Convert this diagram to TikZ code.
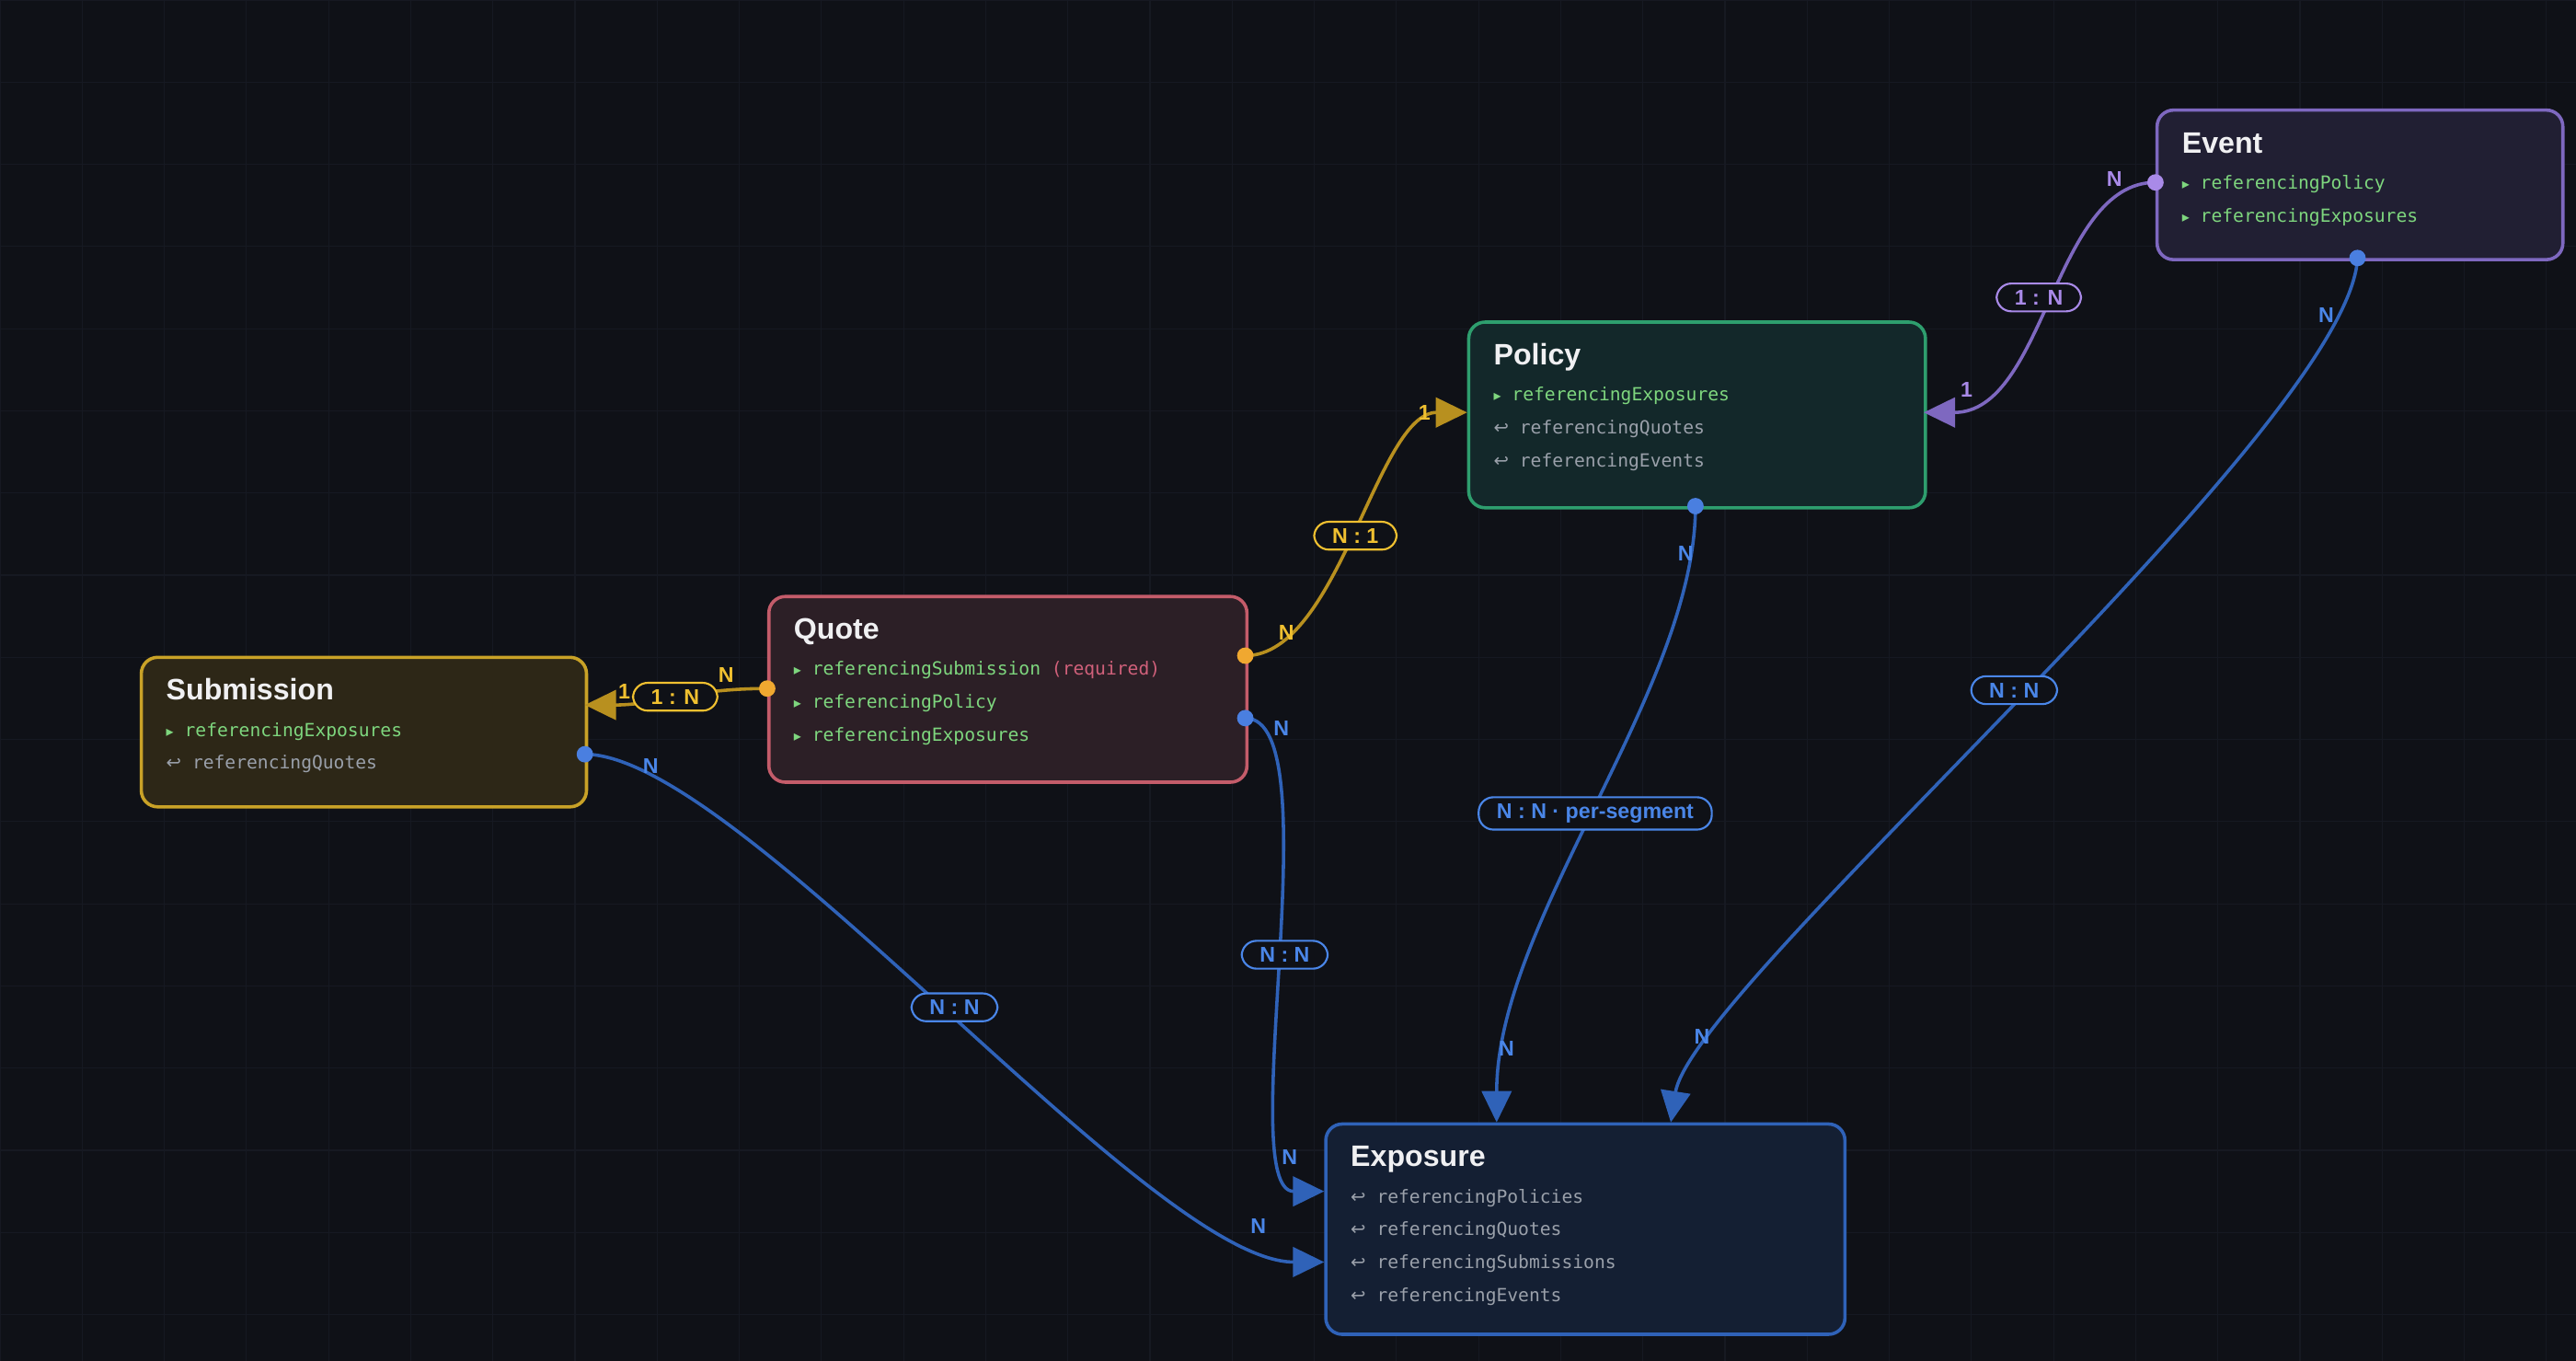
\documentclass[tikz,border=0pt]{standalone}
\usepackage{fontspec}
\setmainfont{Liberation Sans}
\newfontfamily\monof{DejaVu Sans Mono}
\newfontfamily\symf{DejaVu Sans}
\usetikzlibrary{arrows.meta}
\definecolor{bg}{HTML}{0F1117}
\definecolor{gridc}{HTML}{161922}
\definecolor{subB}{HTML}{C9A227}\definecolor{subF}{HTML}{2D2717}
\definecolor{quoB}{HTML}{C45C6A}\definecolor{quoF}{HTML}{2C1F26}
\definecolor{polB}{HTML}{2E9E6E}\definecolor{polF}{HTML}{13282A}
\definecolor{evB}{HTML}{7E68C0}\definecolor{evF}{HTML}{211F33}
\definecolor{exB}{HTML}{2F62B8}\definecolor{exF}{HTML}{141F33}
\definecolor{grn}{HTML}{7ED67E}\definecolor{gry}{HTML}{9AA0AA}\definecolor{req}{HTML}{D0607A}
\definecolor{goldT}{HTML}{F0C030}\definecolor{goldL}{HTML}{B8901F}\definecolor{orD}{HTML}{F0A830}
\definecolor{bluT}{HTML}{4A86E8}\definecolor{bluL}{HTML}{2F62B8}\definecolor{bluD}{HTML}{4A7FE0}
\definecolor{purT}{HTML}{A98AE8}\definecolor{purL}{HTML}{7E68C0}
\definecolor{titleC}{HTML}{F0F0F2}
\begin{document}
\begin{tikzpicture}[x=1pt,y=-1pt,
  box/.style={draw=#1B,fill=#1F,line width=2pt,rounded corners=10pt,anchor=north west,inner sep=0pt},
  ttl/.style={anchor=base west,text=titleC,font=\fontsize{18}{20}\selectfont\bfseries,inner sep=0pt},
  fld/.style={anchor=base west,font=\monof\fontsize{11}{13}\selectfont,inner sep=0pt},
  pill/.style={draw=#1,fill=bg,text=#1,line width=1.2pt,rounded corners=9pt,font=\fontsize{13}{15}\selectfont\bfseries,inner xsep=11pt,inner ysep=4pt},
  card/.style={text=#1,font=\fontsize{13}{15}\selectfont\bfseries,inner sep=1pt},
  con/.style={draw=#1,line width=2pt},
  tip/.style={-{Triangle[length=19pt,width=18pt]}},
  dot/.style={circle,fill=#1,inner sep=0pt,minimum size=10pt}]
\fill[bg] (0,0) rectangle (1568,828);
\useasboundingbox (0,0) rectangle (1568,828);
\foreach \i in {0,50,...,1568} \draw[gridc,line width=0.6pt] (\i,0)--(\i,828);
\foreach \j in {0,50,...,828} \draw[gridc,line width=0.6pt] (0,\j)--(1568,\j);
\newcommand\tri{{\symf\fontsize{9}{11}\selectfont ▸}}
\newcommand\ret{{\symf ↩}}
% boxes
\node[box=sub,minimum width=271pt,minimum height=91pt] (sub) at (85,399) {};
\node[box=quo,minimum width=291pt,minimum height=113pt] (quo) at (467,362) {};
\node[box=pol,minimum width=278pt,minimum height=113pt] (pol) at (893,195) {};
\node[box=ev,minimum width=247pt,minimum height=91pt] (ev) at (1312,66) {};
\node[box=ex,minimum width=316pt,minimum height=128pt] (ex) at (806,683) {};
% texts
\node[ttl] (t1) at (101,426) {Submission};
\node[fld,text=grn] (f11) at (101,448) {\tri\ referencingExposures};
\node[fld,text=gry] (f12) at (101,468) {\ret\ referencingQuotes};
\node[ttl] (t2) at (483,389) {Quote};
\node[fld,text=grn] (f21) at (483,411) {\tri\ referencingSubmission \textcolor{req}{(required)}};
\node[fld,text=grn] (f22) at (483,431) {\tri\ referencingPolicy};
\node[fld,text=grn] (f23) at (483,451) {\tri\ referencingExposures};
\node[ttl] (t3) at (909,222) {Policy};
\node[fld,text=grn] (f31) at (909,244) {\tri\ referencingExposures};
\node[fld,text=gry] (f32) at (909,264) {\ret\ referencingQuotes};
\node[fld,text=gry] (f33) at (909,284) {\ret\ referencingEvents};
\node[ttl] (t4) at (1328,93) {Event};
\node[fld,text=grn] (f41) at (1328,115) {\tri\ referencingPolicy};
\node[fld,text=grn] (f42) at (1328,135) {\tri\ referencingExposures};
\node[ttl] (t5) at (822,710) {Exposure};
\node[fld,text=gry] (f51) at (822,732) {\ret\ referencingPolicies};
\node[fld,text=gry] (f52) at (822,752) {\ret\ referencingQuotes};
\node[fld,text=gry] (f53) at (822,772) {\ret\ referencingSubmissions};
\node[fld,text=gry] (f54) at (822,792) {\ret\ referencingEvents};
% ports
\coordinate (qs) at (467,419); \coordinate (sq) at (356,429);
\coordinate (qp) at (758,399); \coordinate (pq) at (893,251);
\coordinate (ep) at (1312,111); \coordinate (pe) at (1171,251);
\coordinate (ee) at (1435,157); \coordinate (xe) at (1017,683);
\coordinate (px) at (1032,308); \coordinate (xp) at (911,683);
\coordinate (qx) at (758,437); \coordinate (xq) at (806,725);
\coordinate (sx) at (356,459); \coordinate (xs) at (806,768);
% connectors
\draw[con=goldL,tip] (qs) .. controls (420,419) and (400,429) .. (sq);
\draw[con=goldL,tip] (qp) .. controls (815,399) and (838,251) .. (pq);
\draw[con=purL,tip] (ep) .. controls (1250,111) and (1245,251) .. (pe);
\draw[con=bluL,tip] (ee) .. controls (1430,260) and (1030,600) .. (xe);
\draw[con=bluL,tip] (px) .. controls (1032,420) and (911,560) .. (xp);
\draw[con=bluL,tip] (qx) .. controls (812,437) and (750,725) .. (xq);
\draw[con=bluL,tip] (sx) .. controls (450,459) and (700,768) .. (xs);
% dots
\node[dot=orD] (d1) at (qs) {}; \node[dot=orD] (d2) at (qp) {};
\node[dot=purT] (d3) at (ep) {}; \node[dot=bluD] (d4) at (ee) {};
\node[dot=bluD] (d5) at (px) {}; \node[dot=bluD] (d6) at (qx) {};
\node[dot=bluD] (d7) at (sx) {};
% pills
\node[pill=goldT] (p1) at (411,424) {1 : N};
\node[pill=goldT] (p2) at (825,326) {N : 1};
\node[pill=purT] (p3) at (1241,181) {1 : N};
\node[pill=bluT] (p4) at (1226,420) {N : N};
\node[pill=bluT] (p5) at (971,495) {N : N · per-segment};
\node[pill=bluT] (p6) at (782,581) {N : N};
\node[pill=bluT] (p7) at (581,613) {N : N};
% cardinalities
\node[card=goldT] (c1) at (442,411) {N}; \node[card=goldT] (c2) at (380,421) {1};
\node[card=goldT] (c3) at (783,385) {N}; \node[card=goldT] (c4) at (867,251) {1};
\node[card=purT] (c5) at (1287,109) {N}; \node[card=purT] (c6) at (1197,237) {1};
\node[card=bluT] (c7) at (1416,192) {N}; \node[card=bluT] (c8) at (1036,631) {N};
\node[card=bluT] (c9) at (1026,337) {N}; \node[card=bluT] (c10) at (917,638) {N};
\node[card=bluT] (c11) at (780,443) {N}; \node[card=bluT] (c12) at (785,704) {N};
\node[card=bluT] (c13) at (396,466) {N}; \node[card=bluT] (c14) at (766,746) {N};
\end{tikzpicture}
\end{document}
